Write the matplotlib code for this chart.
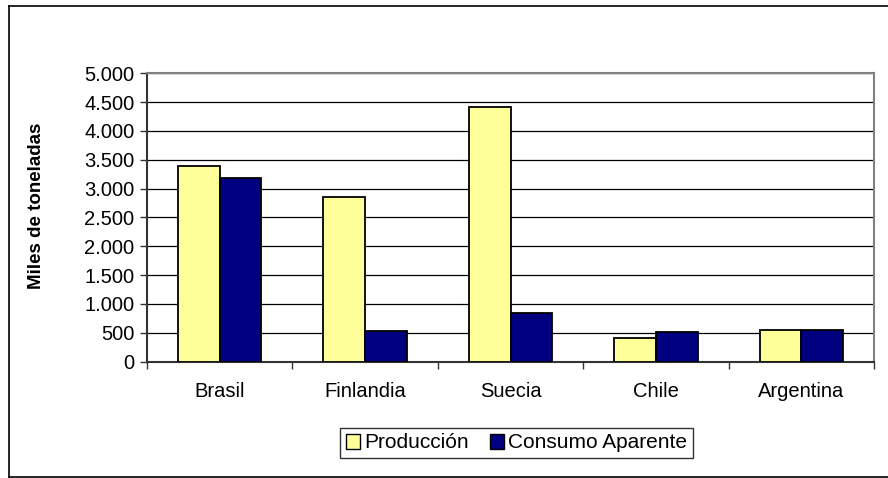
import matplotlib
matplotlib.use("Agg")
import matplotlib.pyplot as plt
from matplotlib.patches import Patch
from matplotlib.lines import Line2D
import numpy as np

categories = ["Brasil", "Finlandia", "Suecia", "Chile", "Argentina"]
produccion = [3400, 2850, 4420, 410, 540]
consumo = [3180, 530, 850, 520, 540]
series_names = ["Producción", "Consumo Aparente"]
y_ticks = [0, 500, 1000, 1500, 2000, 2500, 3000, 3500, 4000, 4500, 5000]
y_tick_labels = ["0", "500", "1.000", "1.500", "2.000", "2.500", "3.000",
                 "3.500", "4.000", "4.500", "5.000"]

plt.rcParams['font.family'] = ['Liberation Sans', 'DejaVu Sans']

W, H = 888, 478
fig = plt.figure(figsize=(W / 100, H / 100), dpi=100)
ax = fig.add_axes([147 / W, 1 - 361.5 / H, (874 - 147) / W, (361.5 - 73.3) / H])

yellow = "#FFFF99"
navy = "#000080"
bw = 0.287
x = np.arange(len(categories))
ax.bar(x - bw / 2, produccion, width=bw, color=yellow, edgecolor="black",
       linewidth=1.3, zorder=3)
ax.bar(x + bw / 2, consumo, width=bw, color=navy, edgecolor="black",
       linewidth=1.3, zorder=3)

ax.set_xlim(-0.5, len(categories) - 0.5)
ax.set_ylim(0, 5000)
ax.set_yticks(y_ticks)
ax.set_yticklabels(y_tick_labels, fontsize=14.5)
ax.tick_params(axis='y', length=5, width=1, color='#333333', pad=4)

ax.set_xticks(np.arange(-0.5, len(categories), 1.0))
ax.set_xticklabels([])
ax.tick_params(axis='x', which='major', length=5, width=1, color='#333333')
ax.set_xticks(x, minor=True)
ax.set_xticklabels(categories, minor=True, fontsize=14.5)
ax.tick_params(axis='x', which='minor', length=0, pad=15)

ax.yaxis.grid(True, color='black', linewidth=0.9, zorder=0)
ax.set_axisbelow(True)

for s in ['top', 'right']:
    ax.spines[s].set_color('#808080')
    ax.spines[s].set_linewidth(1.5)
for s in ['left', 'bottom']:
    ax.spines[s].set_color('#333333')
    ax.spines[s].set_linewidth(1.5)

fig.text(37 / W, 1 - 206 / H, "Miles de toneladas", rotation=90,
         fontsize=13.5, fontweight='bold', ha='center', va='center')

handles = [Patch(facecolor=yellow, edgecolor='black', linewidth=1),
           Patch(facecolor=navy, edgecolor='black', linewidth=1)]
leg = fig.legend(handles, series_names, loc='center',
                 bbox_to_anchor=(516.5 / W, 1 - 443 / H), ncol=2,
                 fontsize=15, frameon=True, fancybox=False,
                 handlelength=0.7, handleheight=0.7, handletextpad=0.2,
                 columnspacing=1.0, borderpad=0.25, borderaxespad=0)
leg.get_frame().set_edgecolor('black')
leg.get_frame().set_linewidth(1)

# outer chart border
bl = dict(color='black', linewidth=1.2, transform=fig.transFigure)
fig.add_artist(Line2D([9 / W, 9 / W], [1 - 477 / H, 1 - 6 / H], **bl))
fig.add_artist(Line2D([9 / W, 1], [1 - 6 / H, 1 - 6 / H], **bl))
fig.add_artist(Line2D([9 / W, 1], [1 - 477 / H, 1 - 477 / H], **bl))

fig.savefig("out.png", dpi=100)
